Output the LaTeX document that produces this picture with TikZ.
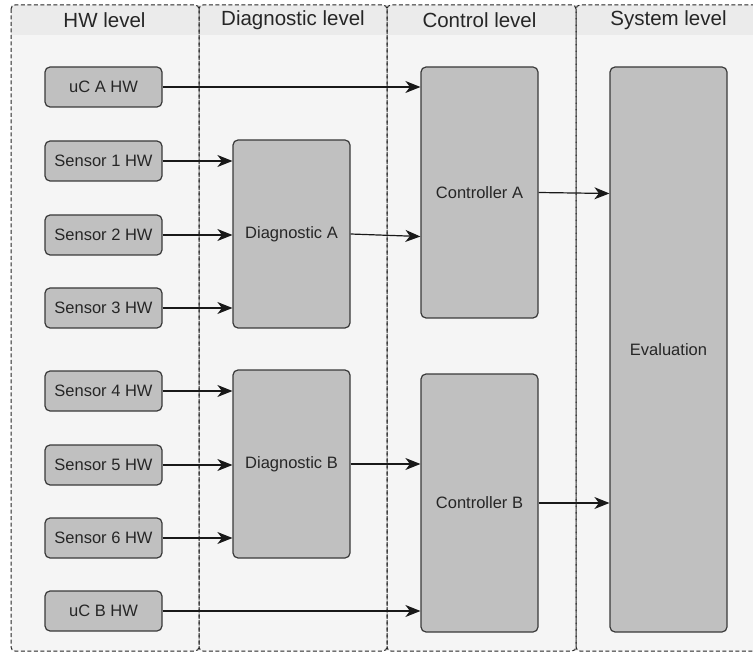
\documentclass[tikz,border=0pt]{standalone}
\usepackage{fontspec}
\setmainfont{Liberation Sans}
\usetikzlibrary{arrows.meta}
\definecolor{lanebody}{HTML}{F5F5F5}
\definecolor{lanehead}{HTML}{EBEBEB}
\definecolor{boxfill}{HTML}{C0C0C0}
\definecolor{boxline}{HTML}{3A3A3A}
\definecolor{txt}{HTML}{262626}
\tikzset{
  blk/.style={draw=boxline, fill=boxfill, line width=1.2pt, rounded corners=5pt,
    text=txt, font=\fontsize{16.5}{18}\selectfont, inner sep=0pt},
  hwbox/.style={blk, minimum width=117pt, minimum height=40pt},
  lanebox/.style={draw=black!85, line width=1pt, dash pattern=on 4pt off 2.5pt, rounded corners=4pt},
  lanetitle/.style={text=txt, font=\fontsize{20.5}{22}\selectfont},
  flow/.style={draw=black!90, line width=1.2pt, -{Stealth[length=15pt,width=12pt,inset=4.5pt]}},
}
\begin{document}
\begin{tikzpicture}[x=1pt,y=-1pt]
\useasboundingbox (0,0) rectangle (753,655);
\fill[white] (0,0) rectangle (753,655);
% swimlanes: body, header band, dashed outline
\foreach \xa/\xb/\xc/\nm in {11/199/104.5/HW level,199/387/293/Diagnostic level,387/576/479.5/Control level,576/762/668.5/System level}{
  \fill[lanebody] (\xa,5) rectangle (\xb,651);
  \fill[lanehead] (\xa,5) rectangle (\xb,35);
  \node[lanetitle] at (\xc,20) {\nm};
}
\foreach \xa/\xb in {11/199,199/387,387/576,576/762}{
  \draw[lanebox] (\xa,5) rectangle (\xb,651);
}
% hardware blocks
\node[hwbox] (uca) at (103.5,87) {uC A HW};
\node[hwbox] (s1) at (103.5,161) {Sensor 1 HW};
\node[hwbox] (s2) at (103.5,235) {Sensor 2 HW};
\node[hwbox] (s3) at (103.5,308) {Sensor 3 HW};
\node[hwbox] (s4) at (103.5,391) {Sensor 4 HW};
\node[hwbox] (s5) at (103.5,465) {Sensor 5 HW};
\node[hwbox] (s6) at (103.5,538) {Sensor 6 HW};
\node[hwbox] (ucb) at (103.5,611) {uC B HW};
% diagnostic, control and system blocks
\node[blk, minimum width=117pt, minimum height=188pt] (diagA) at (291.5,234) {Diagnostic A};
\node[blk, minimum width=117pt, minimum height=188pt] (diagB) at (291.5,464) {Diagnostic B};
\node[blk, minimum width=117pt, minimum height=251pt] (ctrlA) at (479.5,192.5) {Controller A};
\node[blk, minimum width=117pt, minimum height=258pt] (ctrlB) at (479.5,503) {Controller B};
\node[blk, minimum width=117pt, minimum height=565pt] (eval) at (668.5,349.5) {Evaluation};
% signal flow
\draw[flow] (uca.east) -- (uca.east -| ctrlA.west);
\foreach \s in {s1,s2,s3}{\draw[flow] (\s.east) -- (\s.east -| diagA.west);}
\foreach \s in {s4,s5,s6}{\draw[flow] (\s.east) -- (\s.east -| diagB.west);}
\draw[flow] (diagA.east) -- (ctrlA.west |- 0,236.5);
\draw[flow] (diagB.east) -- (diagB.east -| ctrlB.west);
\draw[flow] (ctrlA.east) -- (eval.west |- 0,193.5);
\draw[flow] (ctrlB.east) -- (ctrlB.east -| eval.west);
\draw[flow] (ucb.east) -- (ucb.east -| ctrlB.west);
\end{tikzpicture}
\end{document}
